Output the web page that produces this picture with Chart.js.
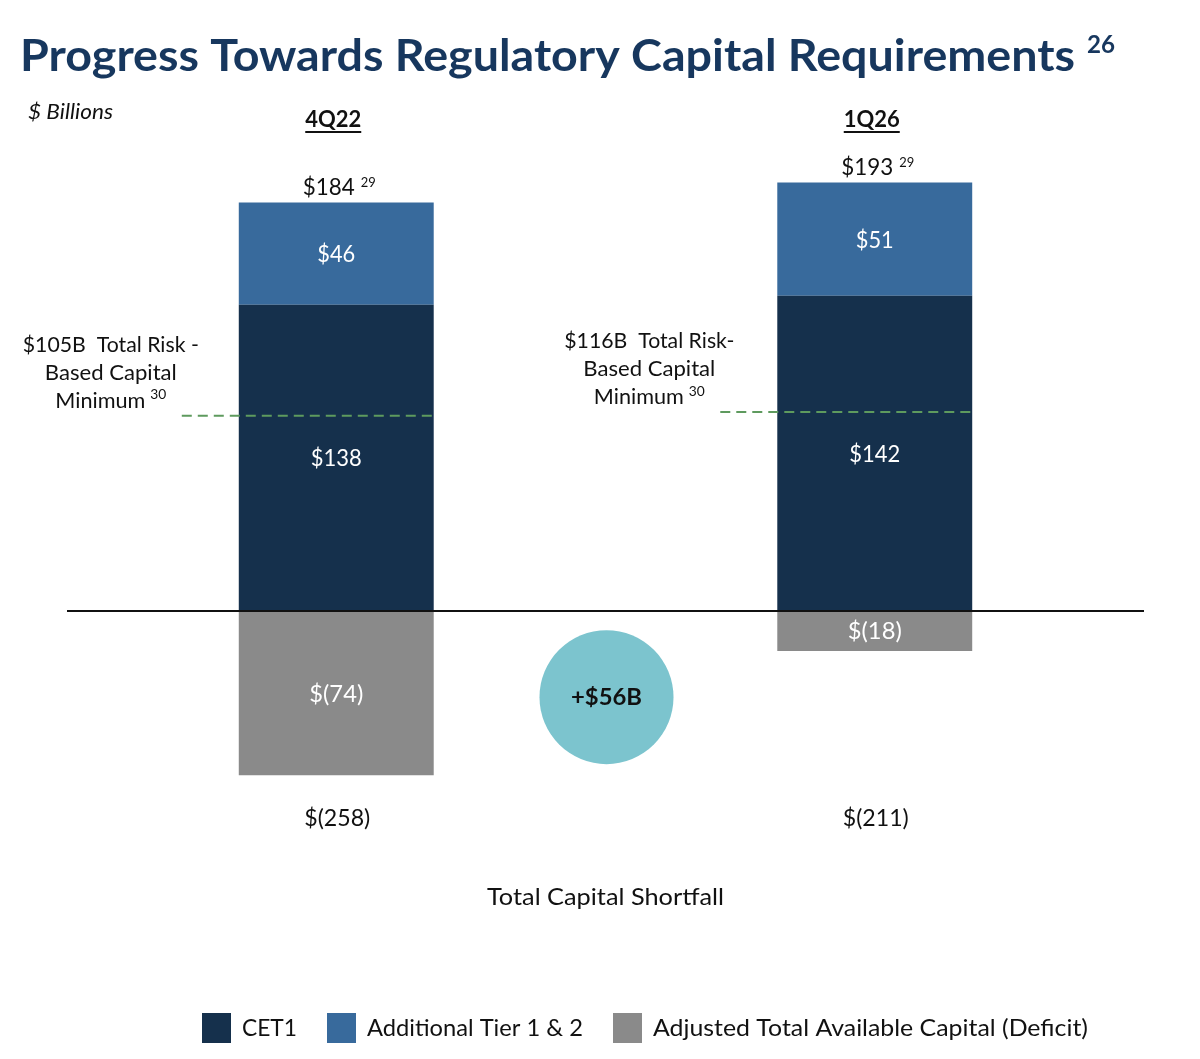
<!DOCTYPE html>
<html><head><meta charset="utf-8">
<script src="https://cdn.jsdelivr.net/npm/chart.js@4.4.0/dist/chart.umd.min.js"></script>
<style>html,body{margin:0;padding:0;background:#fff;} #wrap{position:relative;width:1200px;height:1059px;}</style>
</head><body><div id="wrap"><canvas id="c" width="1200" height="1059"></canvas></div>
<script>
// ---- data ----
const categories = ['4Q22', '1Q26'];
const seriesNames = ['CET1', 'Additional Tier 1 & 2', 'Adjusted Total Available Capital (Deficit)'];
const cet1 = [138, 142];
const additionalTier = [46, 51];
const adjustedCapital = [-74, -18];
const totalShortfall = [-258, -211];
const totalFootnote = ['29', '29'];
const minCapital = [105, 116];
const minLabelSuffix = ['Total Risk -', 'Total Risk-'];
const minLineLevel = [88, 89.6];
const yRange = [-100, 200];

// ---- style ----
const FONT = 'Lato, "Open Sans", sans-serif';
const COL = { cet1: '#15304c', at: '#386a9c', gray: '#8a8a8a', circle: '#7cc4ce', dash: '#5e9a5e', title: '#17375e', text: '#111111' };
const legendTextWidths = [55, 216, 435];

function money(v) { return v < 0 ? '$(' + Math.abs(v) + ')' : '$' + v; }

function setFont(ctx, size, weight, style) { ctx.font = (style || 'normal') + ' ' + (weight || 400) + ' ' + size + 'px ' + FONT; }
// draws text at a given font size, horizontally scaled so its width equals `fit`
function txt(ctx, s, x, y, o) {
  o = o || {};
  ctx.save();
  const size = o.size || 23;
  setFont(ctx, size, o.weight, o.style);
  const raw = ctx.measureText(s).width;
  const sx = o.fit ? o.fit / raw : (o.sx || 1);
  const w = raw * sx;
  ctx.fillStyle = o.color || COL.text;
  ctx.textBaseline = o.base || 'middle';
  ctx.textAlign = 'left';
  const align = o.align || 'center';
  const left = align === 'center' ? x - w / 2 : (align === 'right' ? x - w : x);
  ctx.translate(left, y); ctx.scale(sx, 1); ctx.fillText(s, 0, 0);
  ctx.restore();
  return { w: w, sx: sx };
}

const overlay = {
  id: 'overlay',
  afterDatasetsDraw(chart) {
    const ctx = chart.ctx, y = chart.scales.y, ca = chart.chartArea;
    const meta0 = chart.getDatasetMeta(0), meta1 = chart.getDatasetMeta(1), meta2 = chart.getDatasetMeta(2);
    const y0 = y.getPixelForValue(0);

    // zero axis line
    ctx.save(); ctx.strokeStyle = '#111'; ctx.lineWidth = 2;
    ctx.beginPath(); ctx.moveTo(ca.left, y0); ctx.lineTo(ca.right, y0); ctx.stroke(); ctx.restore();

    categories.forEach((cat, i) => {
      const b0 = meta0.data[i], b1 = meta1.data[i], b2 = meta2.data[i];
      const cx = b0.x, half = b0.width / 2;
      const left = cx - half, right = cx + half;

      // segment value labels
      txt(ctx, money(cet1[i]), cx, (b0.y + b0.base) / 2 + 1, { size: 23, color: '#fff', fit: 51 });
      txt(ctx, money(additionalTier[i]), cx, (b1.y + b1.base) / 2 + 1, { size: 23, color: '#fff', fit: 38 });
      txt(ctx, money(adjustedCapital[i]), cx, (b2.y + b2.base) / 2 + 1, { size: 23, color: '#fff', fit: 54 });

      // total above bar with footnote
      const total = cet1[i] + additionalTier[i];
      const ty = y.getPixelForValue(total) - 15;
      const supW = 15, gap = 6, mainW = 52;
      const groupW = mainW + gap + supW;
      const sx = cx + 3 - groupW / 2;
      txt(ctx, money(total), sx, ty, { size: 23, align: 'left', fit: mainW });
      txt(ctx, totalFootnote[i], sx + mainW + gap, ty - 5, { size: 14, align: 'left', fit: supW });

      // category header (bold, underlined)
      const hr = txt(ctx, cat, cx - 3, 120, { size: 23, weight: 700, fit: 56 });
      ctx.save(); ctx.strokeStyle = '#111'; ctx.lineWidth = 2;
      ctx.beginPath(); ctx.moveTo(cx - 3 - hr.w / 2, 132); ctx.lineTo(cx - 3 + hr.w / 2, 132); ctx.stroke(); ctx.restore();

      // total shortfall below
      txt(ctx, money(totalShortfall[i]), cx + 1, 819, { size: 23, fit: 66 });

      // dashed minimum line
      const ly = y.getPixelForValue(minLineLevel[i]);
      ctx.save(); ctx.strokeStyle = COL.dash; ctx.lineWidth = 2; ctx.setLineDash([10, 6]);
      ctx.beginPath(); ctx.moveTo(left - 57, ly); ctx.lineTo(right, ly); ctx.stroke(); ctx.restore();

      // minimum label
      const mx = left - 128;
      const l1 = '$' + minCapital[i] + 'B  ' + minLabelSuffix[i];
      txt(ctx, l1, mx, ly - 71, { size: 22, fit: i === 0 ? 176 : 170 });
      txt(ctx, 'Based Capital', mx, ly - 43, { size: 22, fit: 132 });
      const mw = 90, mg = mw + 5 + 16;
      txt(ctx, 'Minimum', mx - mg / 2, ly - 15, { size: 22, align: 'left', fit: mw });
      txt(ctx, '30', mx - mg / 2 + mw + 5, ly - 21, { size: 14, align: 'left', fit: 16 });
    });

    // change bubble between the bars
    const c0 = meta0.data[0].x, c1 = meta0.data[1].x;
    const bx = (c0 + c1) / 2 + 1, by = y.getPixelForValue(adjustedCapital[0] * 0.5) + 4;
    ctx.save(); ctx.fillStyle = COL.circle; ctx.beginPath(); ctx.arc(bx, by, 67, 0, Math.PI * 2); ctx.fill(); ctx.restore();
    const delta = adjustedCapital[1] - adjustedCapital[0];
    txt(ctx, '+$' + delta + 'B', bx, by, { size: 23, weight: 700, fit: 71, color: '#111' });

    // axis caption
    txt(ctx, 'Total Capital Shortfall', (ca.left + ca.right) / 2, 898, { size: 23, fit: 237 });

    // title
    const t = txt(ctx, 'Progress Towards Regulatory Capital Requirements', 20, 57, { size: 44, weight: 700, color: COL.title, align: 'left', fit: 1055 });
    txt(ctx, '26', 20 + t.w + 12, 45, { size: 25, weight: 700, color: COL.title, align: 'left', fit: 28 });

    // units
    txt(ctx, '$ Billions', 28, 112, { size: 21, style: 'italic', align: 'left', fit: 85 });

    // legend
    const colors = [COL.cet1, COL.at, COL.gray];
    const boxW = 29, boxH = 30, tgap = 11, igap = 30;
    let lx = 202; const lyc = 1028;
    seriesNames.forEach((s, j) => {
      ctx.save(); ctx.fillStyle = colors[j]; ctx.fillRect(lx, lyc - boxH / 2, boxW, boxH); ctx.restore();
      lx += boxW + tgap;
      txt(ctx, s, lx, lyc + 1, { size: 23, align: 'left', fit: legendTextWidths[j] });
      lx += legendTextWidths[j] + igap;
    });
  }
};

new Chart(document.getElementById('c').getContext('2d'), {
  type: 'bar',
  data: {
    labels: categories,
    datasets: [
      { label: seriesNames[0], data: cet1, backgroundColor: COL.cet1, stack: 's' },
      { label: seriesNames[1], data: additionalTier, backgroundColor: COL.at, stack: 's' },
      { label: seriesNames[2], data: adjustedCapital, backgroundColor: COL.gray, stack: 's' }
    ]
  },
  options: {
    responsive: false, animation: false,
    layout: { padding: { left: 67, right: 56, top: 167, bottom: 226 } },
    datasets: { bar: { barPercentage: 0.362, categoryPercentage: 1, borderWidth: 0 } },
    scales: {
      x: { display: false, stacked: true },
      y: { display: false, stacked: true, min: yRange[0], max: yRange[1] }
    },
    plugins: { legend: { display: false }, tooltip: { enabled: false }, title: { display: false } }
  },
  plugins: [overlay]
});
</script></body></html>
